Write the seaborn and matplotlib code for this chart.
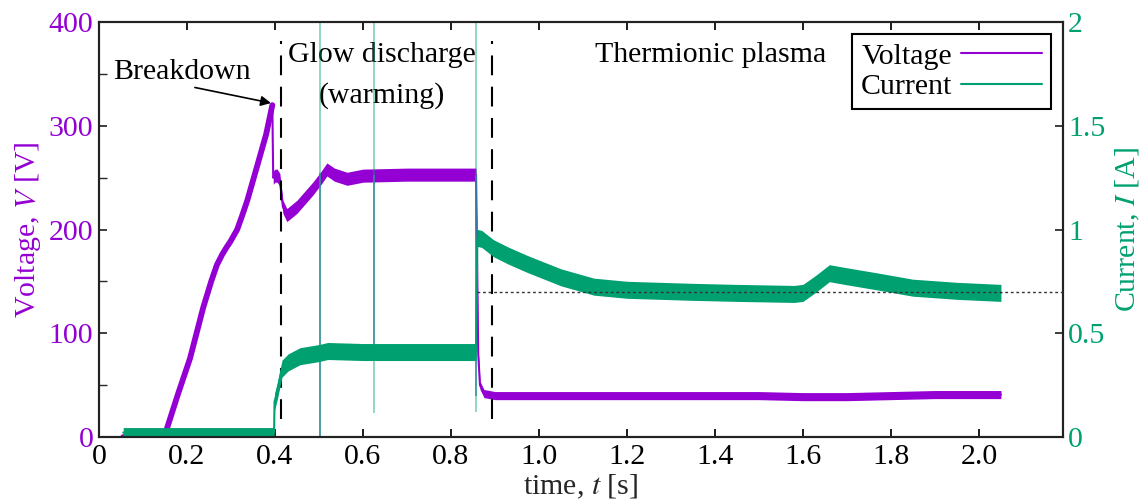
import numpy as np
import pandas as pd
import seaborn as sns
import matplotlib.pyplot as plt
from matplotlib.lines import Line2D

# Voltage trace (time in s, voltage in V)
volt_t = [0.055, 0.150, 0.155, 0.18, 0.207, 0.237, 0.255, 0.268, 0.28, 0.29, 0.298, 0.306, 0.314,
          0.325, 0.337, 0.36, 0.38, 0.394,
          0.396, 0.400, 0.405, 0.411, 0.418, 0.427, 0.45, 0.487, 0.505, 0.518, 0.535, 0.564,
          0.60, 0.70, 0.80, 0.857, 0.862, 0.866, 0.875, 0.90, 1.0, 1.2, 1.5, 1.6, 1.7, 1.8,
          1.9, 2.05]
volt_v = [0, 0, 9, 42, 76, 125, 150, 166, 176, 183, 188, 194, 200,
          213, 228, 262, 292, 320,
          250, 252, 252, 248, 222, 214, 222, 240, 250, 258, 253, 249,
          252, 253, 253, 253, 80, 50, 42, 40, 40, 40, 40, 39, 39, 40,
          41, 41]

# Current trace (time in s, current in A)
curr_t = [0.055, 0.398, 0.399, 0.405, 0.416, 0.43, 0.457, 0.50, 0.52, 0.60, 0.70, 0.857,
          0.860, 0.87, 0.897, 0.93, 0.973, 1.05, 1.125, 1.2, 1.35, 1.45, 1.58, 1.60, 1.63,
          1.66, 1.70, 1.77, 1.85, 1.95, 2.05]
curr_i = [0.022, 0.022, 0.17, 0.22, 0.33, 0.36, 0.39, 0.405, 0.415, 0.41, 0.41, 0.41,
          0.96, 0.955, 0.91, 0.875, 0.835, 0.77, 0.725, 0.71, 0.70, 0.695, 0.69, 0.695, 0.74,
          0.79, 0.775, 0.75, 0.72, 0.705, 0.695]

# Short spikes in the records
spike_t = [0.503, 0.624, 0.856]
spike_i_lo = [0.0, 0.115, 0.12]
spike_v_lo = [0, 85, 40]
spike_v_hi = [255, 253, 253]

phase_t = [0.414, 0.893]
ref_current = 0.70

volt_df = pd.DataFrame({'t': volt_t, 'V': volt_v})
curr_df = pd.DataFrame({'t': curr_t, 'I': curr_i})
ramp_df = volt_df[volt_df['t'] <= 0.394]
plat_df = volt_df[volt_df['t'] >= 0.396]

sns.set_theme(style='ticks')
plt.rcParams['font.family'] = ['Liberation Serif', 'DejaVu Serif']
plt.rcParams['mathtext.fontset'] = 'stix'
plt.rcParams['text.color'] = 'black'

purple = '#9400d3'
green = '#00a071'
fs = 21.5

fig = plt.figure(figsize=(11.43, 5.03), dpi=100)
ax = fig.add_axes([0.0866, 0.131, 0.843, 0.825])
ax2 = ax.twinx()

# voltage: thin trace, thick ramp, noisy band on the plateaus
sns.lineplot(data=volt_df, x='t', y='V', ax=ax, color=purple, linewidth=1.5, sort=False, estimator=None)
sns.lineplot(data=ramp_df, x='t', y='V', ax=ax, color=purple, linewidth=4.2, sort=False, estimator=None)
v_half = np.where(plat_df['t'] < 0.86, 6.3, 3.9)
ax.fill_between(plat_df['t'], plat_df['V'] - v_half, plat_df['V'] + v_half, color=purple, linewidth=0)
ax.vlines(spike_t, spike_v_lo, spike_v_hi, color='#5a78c0', linewidth=1.3, alpha=0.8)

# current: thin trace plus noisy band
sns.lineplot(data=curr_df, x='t', y='I', ax=ax2, color=green, linewidth=1.5, sort=False, estimator=None)
i_half = np.where(curr_df['t'] < 0.399, 0.024, 0.041)
ax2.fill_between(curr_df['t'], curr_df['I'] - i_half, curr_df['I'] + i_half, color=green, linewidth=0)
ax2.vlines(spike_t, spike_i_lo, 2.0, color=green, linewidth=1.2, alpha=0.5)

ax.vlines(phase_t, 17, 382, color='black', linestyles=(0, (9.5, 5.5)), linewidth=1.5)
ax2.hlines(ref_current, 0.86, 2.2, color='#333333', linestyles=(0, (2, 2)), linewidth=1, zorder=5)

ax.set_xlim(0, 2.19)
ax.set_ylim(0, 400)
ax2.set_ylim(0, 2)

ax.set_xticks(np.arange(0, 2.01, 0.2), ['0'] + [f'{x:.1f}' for x in np.arange(0.2, 2.01, 0.2)])
ax.set_yticks([0, 100, 200, 300, 400])
ax.set_yticks([50, 150, 250, 350], minor=True)
ax2.set_yticks([0, 0.5, 1, 1.5, 2], ['0', '0.5', '1', '1.5', '2'])

ax.tick_params(axis='x', direction='in', top=True, labelsize=fs, length=6, colors='black', pad=5)
ax.tick_params(axis='y', which='both', direction='in', labelsize=fs, length=6, labelcolor=purple, pad=4)
ax2.tick_params(axis='y', direction='in', labelsize=fs, length=6, labelcolor=green, pad=4)

ax.set_xlabel('time, $t$ [s]', fontsize=fs, labelpad=2)
ax.set_ylabel('Voltage, $V$ [V]', fontsize=fs, color=purple, labelpad=4)
ax2.set_ylabel('Current, $I$ [A]', fontsize=fs, color=green, labelpad=6)

for a in (ax, ax2):
    for s in a.spines.values():
        s.set_color('#222222')
        s.set_linewidth(1.5)

ax.text(0.189, 352, 'Breakdown', fontsize=fs, ha='center', va='center')
ax.annotate('', xy=(0.391, 322), xytext=(0.218, 337),
            arrowprops=dict(arrowstyle='-|>', color='black', lw=1.2, shrinkA=0, shrinkB=0,
                            mutation_scale=15))
ax.text(0.642, 368, 'Glow discharge', fontsize=fs, ha='center', va='center')
ax.text(0.642, 329, '(warming)', fontsize=fs, ha='center', va='center')
ax.text(1.39, 368, 'Thermionic plasma', fontsize=fs, ha='center', va='center')

handles = [Line2D([], [], color=purple, lw=1.5), Line2D([], [], color=green, lw=1.5)]
leg = ax2.legend(handles, ['Voltage', 'Current'], loc='upper right', fontsize=fs, markerfirst=False,
                 fancybox=False, framealpha=1, edgecolor='black', handlelength=2.7,
                 borderaxespad=0.4, handletextpad=0.3, labelspacing=0.12, borderpad=0.3)
leg.get_frame().set_linewidth(1.5)

fig.savefig('out.png', dpi=100)
